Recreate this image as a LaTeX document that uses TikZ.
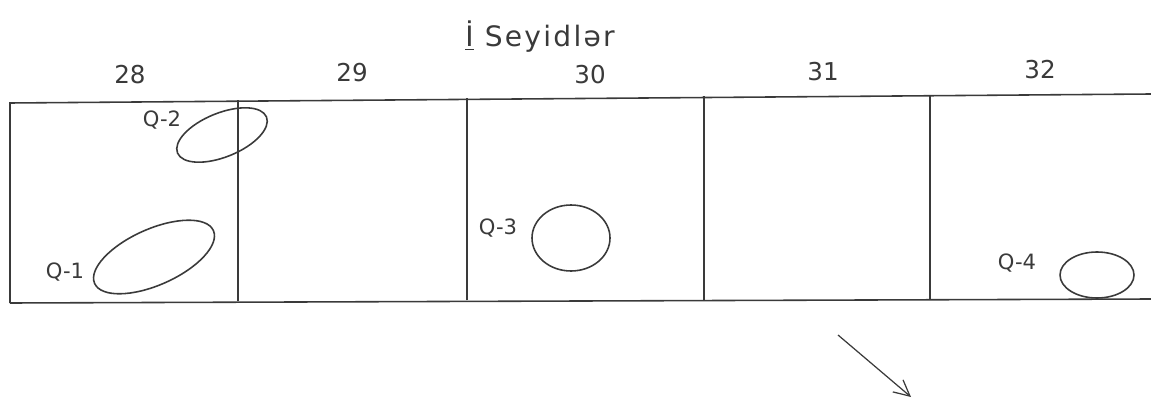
\documentclass[tikz,border=0pt]{standalone}
\usepackage{fontspec}
\setmainfont{DejaVu Sans}
\usepackage{tikz}
\usetikzlibrary{arrows.meta,positioning,calc}
\definecolor{pencil}{HTML}{3A3A3A}

\begin{document}
\begin{tikzpicture}[
  x=0.02cm, y=0.02cm,
  line width=0.9pt, draw=pencil,
  lbl/.style={text=pencil,font=\fontsize{12}{14}\selectfont,inner sep=0pt},
  num/.style={text=pencil,font=\fontsize{14}{16}\selectfont,inner sep=0pt},
  blob/.style={draw=pencil,line width=0.9pt},
  arr/.style={-{Straight Barb[length=9pt,width=9pt]},draw=pencil,line width=0.7pt}
]
\useasboundingbox (0,0) rectangle (1151,399);
% title and plot numbers
\node[text=pencil,font=\fontsize{16}{18}\selectfont\addfontfeatures{LetterSpace=8},inner sep=0pt] (title) at (540,362) {\underline{İ} Seyidlər};
\node[num] (c28) at (130,324) {28};
\node[num] (c29) at (352,326) {29};
\node[num] (c30) at (590,324) {30};
\node[num] (c31) at (823,327) {31};
\node[num] (c32) at (1040,329) {32};
% strip of plots
\draw (10,96) -- (10,296) -- (1151,305);
\draw (10,96) -- (1151,100);
\foreach \xx in {238,467,704,930}
  \draw (\xx,{97+\xx*0.0035}) -- (\xx,{297+\xx*0.0079});
% deposits
\draw[blob,rotate around={24:(154,142)}] (154,142) ellipse [x radius=65, y radius=28];
\draw[blob,rotate around={22:(222,264)}] (222,264) ellipse [x radius=48, y radius=22];
\draw[blob] (571,161) ellipse [x radius=39, y radius=33];
\draw[blob] (1097,124) ellipse [x radius=37, y radius=23];
\node[lbl] (q1) at (65,127) {Q-1};
\node[lbl] (q2) at (162,279) {Q-2};
\node[lbl] (q3) at (498,171) {Q-3};
\node[lbl] (q4) at (1017,136) {Q-4};
% direction
\coordinate (from) at (838,64);
\coordinate (to) at (911,2);
\draw[arr] (from) -- (to);
\end{tikzpicture}
\end{document}
